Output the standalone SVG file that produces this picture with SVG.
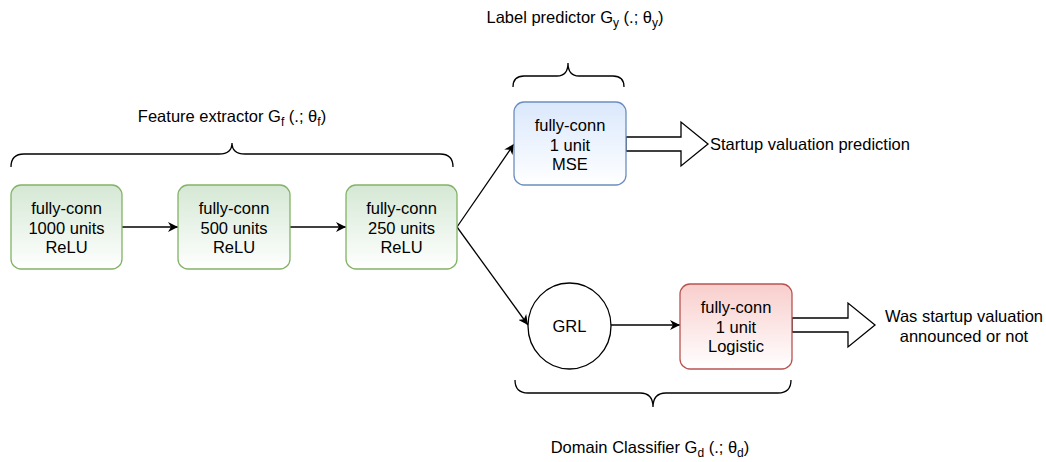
<svg xmlns="http://www.w3.org/2000/svg" width="1046" height="462" viewBox="0 0 1046 462">
<style>
  text { font-family: "Liberation Sans", Arial, sans-serif; font-size: 16.5px; fill: #000; }
  .c { text-anchor: middle; }
  .sub { font-size: 12px; }
  .edge { stroke: #000; stroke-width: 1.3; fill: none; }
  .brace { stroke: #000; stroke-width: 1.3; fill: none; }
  .big { stroke: #000; stroke-width: 1.3; fill: #fff; }
</style>
<defs>
  <linearGradient id="gG" x1="0" y1="0" x2="0" y2="1"><stop offset="0" stop-color="#d5e8d4"/><stop offset="1" stop-color="#fff"/></linearGradient>
  <linearGradient id="gB" x1="0" y1="0" x2="0" y2="1"><stop offset="0" stop-color="#dae8fc"/><stop offset="1" stop-color="#fff"/></linearGradient>
  <linearGradient id="gR" x1="0" y1="0" x2="0" y2="1"><stop offset="0" stop-color="#f8cecc"/><stop offset="1" stop-color="#fff"/></linearGradient>
  <marker id="arr" viewBox="0 0 10 10" refX="10" refY="5" markerWidth="10" markerHeight="10" markerUnits="userSpaceOnUse" orient="auto">
    <path d="M0,0 L10,5 L0,10 L3,5 Z" fill="#000"/>
  </marker>
</defs>

<g id="labels">
  <text class="c" x="232" y="122">Feature extractor G<tspan class="sub" dy="4">f</tspan><tspan dy="-4"> (.; θ</tspan><tspan class="sub" dy="4">f</tspan><tspan dy="-4">)</tspan></text>
  <text class="c" x="575" y="23">Label predictor G<tspan class="sub" dy="4">y</tspan><tspan dy="-4"> (.; θ</tspan><tspan class="sub" dy="4">y</tspan><tspan dy="-4">)</tspan></text>
  <text class="c" x="650" y="453">Domain Classifier G<tspan class="sub" dy="4">d</tspan><tspan dy="-4"> (.; θ</tspan><tspan class="sub" dy="4">d</tspan><tspan dy="-4">)</tspan></text>
</g>

<g id="braces">
  <path class="brace" d="M11,167 Q11,154 24,154 L219,154 Q232,154 232,143 Q232,154 245,154 L440,154 Q453,154 453,167"/>
  <path class="brace" d="M513,87 Q513,76 524,76 L557,76 Q568,76 568,63 Q568,76 579,76 L613,76 Q624,76 624,87"/>
  <path class="brace" d="M515,380 Q515,393 528,393 L640,393 Q653,393 653,407 Q653,393 666,393 L778,393 Q791,393 791,380"/>
</g>

<g id="connectors">
  <line class="edge" x1="122" y1="227" x2="178" y2="227" marker-end="url(#arr)"/>
  <line class="edge" x1="290" y1="227" x2="346" y2="227" marker-end="url(#arr)"/>
  <line class="edge" x1="457" y1="227" x2="514" y2="144" marker-end="url(#arr)"/>
  <line class="edge" x1="457" y1="227" x2="528" y2="325" marker-end="url(#arr)"/>
  <line class="edge" x1="611" y1="325" x2="680" y2="325" marker-end="url(#arr)"/>
  <path class="big" d="M626,137 L681,137 L681,122 L708,144 L681,166 L681,151 L626,151 Z"/>
  <path class="big" d="M792,318 L848,318 L848,303 L875,325 L848,347 L848,332 L792,332 Z"/>
</g>

<g id="fc1">
  <rect x="11" y="185" width="111" height="84" rx="10" fill="url(#gG)" stroke="#82b366" stroke-width="1.3"/>
  <text class="c" x="66.5" y="214">fully-conn<tspan x="66.5" dy="19.5">1000 units</tspan><tspan x="66.5" dy="19.5">ReLU</tspan></text>
</g>
<g id="fc2">
  <rect x="178" y="185" width="112" height="84" rx="10" fill="url(#gG)" stroke="#82b366" stroke-width="1.3"/>
  <text class="c" x="234" y="214">fully-conn<tspan x="234" dy="19.5">500 units</tspan><tspan x="234" dy="19.5">ReLU</tspan></text>
</g>
<g id="fc3">
  <rect x="346" y="185" width="111" height="84" rx="10" fill="url(#gG)" stroke="#82b366" stroke-width="1.3"/>
  <text class="c" x="401.5" y="214">fully-conn<tspan x="401.5" dy="19.5">250 units</tspan><tspan x="401.5" dy="19.5">ReLU</tspan></text>
</g>
<g id="label-predictor">
  <rect x="514" y="102" width="112" height="83" rx="10" fill="url(#gB)" stroke="#6c8ebf" stroke-width="1.3"/>
  <text class="c" x="570" y="131">fully-conn<tspan x="570" dy="19.5">1 unit</tspan><tspan x="570" dy="19.5">MSE</tspan></text>
</g>
<g id="grl">
  <ellipse cx="569.5" cy="326" rx="41.5" ry="43" fill="#fff" stroke="#000" stroke-width="1.3"/>
  <text class="c" x="569.5" y="332">GRL</text>
</g>
<g id="domain-classifier">
  <rect x="680" y="284" width="112" height="85" rx="10" fill="url(#gR)" stroke="#b85450" stroke-width="1.3"/>
  <text class="c" x="736" y="313">fully-conn<tspan x="736" dy="19.5">1 unit</tspan><tspan x="736" dy="19.5">Logistic</tspan></text>
</g>
<g id="outputs">
  <text x="710" y="150">Startup valuation prediction</text>
  <text class="c" x="964" y="322">Was startup valuation<tspan x="964" dy="19.5">announced or not</tspan></text>
</g>
</svg>
